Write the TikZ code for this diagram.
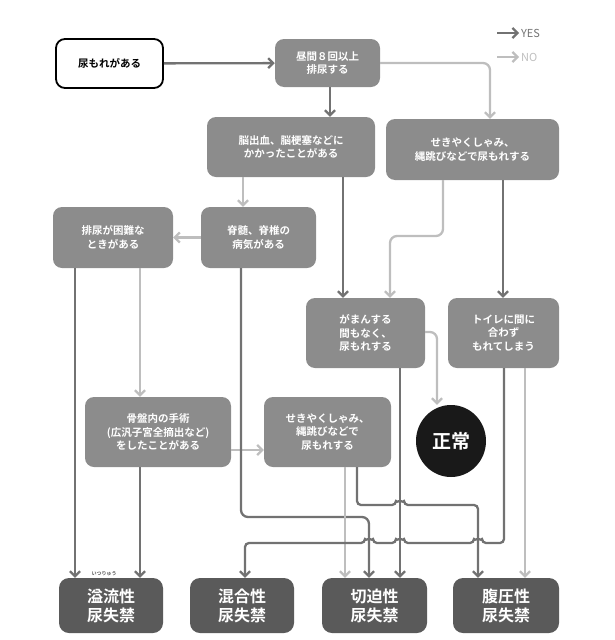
\documentclass[tikz,border=0pt]{standalone}
\usepackage{fontspec}
\setmainfont{Noto Sans CJK JP}[BoldFont={Noto Sans CJK JP Bold}]
\usetikzlibrary{arrows.meta}
\usetikzlibrary{positioning}
\usetikzlibrary{shapes.geometric}
\definecolor{boxgray}{HTML}{8C8C8C}
\definecolor{endgray}{HTML}{5A5A5A}
\definecolor{yesgray}{HTML}{727272}
\definecolor{nogray}{HTML}{BEBEBE}
\tikzset{
  qbox/.style={fill=boxgray,rounded corners=9pt,text=white,font=\bfseries\fontsize{10.5}{13.5}\selectfont,align=center,inner sep=0pt},
  endbox/.style={fill=endgray,rounded corners=10pt,text=white,font=\bfseries\fontsize{16}{19}\selectfont,align=center,inner sep=0pt},
  yes/.style={draw=yesgray,line width=2.3pt,rounded corners=7pt,-{Straight Barb[length=5pt,width=10pt]}},
  no/.style={draw=nogray,line width=2.3pt,rounded corners=7pt,-{Straight Barb[length=5pt,width=10pt]}},
}
\begin{document}
\begin{tikzpicture}[x=1pt,y=-1pt]
\useasboundingbox (0,0) rectangle (615,640);
% boxes
\node[draw=black,line width=1.8pt,rounded corners=9pt,minimum width=107pt,minimum height=49pt,font=\bfseries\fontsize{10.5}{13}\selectfont] (start) at (109.5,63.5) {尿もれがある};
\node[qbox,minimum width=105pt,minimum height=48pt] (freq) at (327.5,63) {昼間８回以上\\排尿する};
\node[qbox,minimum width=168pt,minimum height=60pt] (brain) at (291,147) {脳出血、脳梗塞などに\\かかったことがある};
\node[qbox,minimum width=173pt,minimum height=61pt] (cough) at (472.5,149.5) {せきやくしゃみ、\\縄跳びなどで尿もれする};
\node[qbox,minimum width=115pt,minimum height=61pt] (spine) at (258.5,237.5) {脊髄、脊椎の\\病気がある};
\node[qbox,minimum width=120pt,minimum height=61pt] (hard) at (113,237.5) {排尿が困難な\\ときがある};
\node[qbox,minimum width=119pt,minimum height=70pt] (gaman) at (365.5,333) {がまんする\\間もなく、\\尿もれする};
\node[qbox,minimum width=111pt,minimum height=70pt] (toilet) at (503.5,333) {トイレに間に\\合わず\\もれてしまう};
\node[qbox,minimum width=146pt,minimum height=70pt] (pelvis) at (158,432) {骨盤内の手術\\(広汎子宮全摘出など)\\をしたことがある};
\node[qbox,minimum width=127pt,minimum height=70pt] (cough2) at (327.5,432) {せきやくしゃみ、\\縄跳びなどで\\尿もれする};
\node[ellipse,fill=black!90,text=white,minimum width=70pt,minimum height=72pt,font=\bfseries\fontsize{19}{22}\selectfont] (normal) at (451,441) {正常};
\node[endbox,minimum width=104pt,minimum height=55pt] (over) at (111,605.5) {溢流性\\尿失禁};
\node[font=\bfseries\fontsize{5}{5}\selectfont,text=endgray] (ruby) at (104,574) {いつりゅう};
\node[endbox,minimum width=104pt,minimum height=55pt] (mixed) at (242,605.5) {混合性\\尿失禁};
\node[endbox,minimum width=105pt,minimum height=55pt] (urge) at (374.5,605.5) {切迫性\\尿失禁};
\node[endbox,minimum width=106pt,minimum height=55pt] (stress) at (506,605.5) {腹圧性\\尿失禁};
% legend
\coordinate (ly) at (497,33);
\coordinate (ln) at (497,57);
\draw[yes] (ly) -- ++(22,0) node[right,draw=none,text=yesgray,inner sep=1pt,font=\fontsize{11}{11}\selectfont] (ylab) {YES};
\draw[no] (ln) -- ++(22,0) node[right,draw=none,text=nogray,inner sep=1pt,font=\fontsize{11}{11}\selectfont] (nlab) {NO};
% connectors
\draw[yes] (start) -- (freq);
\draw[yes] (freq.south -| 330,0) -- (brain.north -| 330,0);
\draw[no] (freq.east) -- (490,63) -- (cough.north -| 490,0);
\draw[no] (brain.south -| 243,0) -- (spine.north -| 243,0);
\draw[yes] (brain.south -| 343,0) -- (gaman.north -| 343,0);
\draw[no] (cough.south -| 443,0) -- (443,236) -- (390,236) -- (gaman.north -| 390,0);
\draw[yes] (cough.south -| 503,0) -- (toilet.north -| 503,0);
\draw[no] (spine) -- (hard);
\draw[yes] (hard.south -| 75,0) -- (over.north -| 75,0);
\draw[no] (hard.south -| 140,0) -- (pelvis.north -| 140,0);
\draw[yes] (pelvis.south -| 140,0) -- (over.north -| 140,0);
\draw[no] (pelvis.east |- 0,450) -- (cough2.west |- 0,450);
\draw[yes] (spine.south -| 241,0) -- (241,517) -- (369,517) -- (urge.north -| 369,0);
\draw[no] (cough2.south -| 345,0) -- (urge.north -| 345,0);
\draw[yes,rounded corners=4pt] (cough2.south -| 357,0) -- (357,505) -- (396,505) arc(180:360:4) -- (478,505) -- (stress.north -| 478,0);
\draw[yes] (gaman.south -| 400,0) -- (urge.north -| 400,0);
\draw[no] (gaman.east |- 0,332) -- (437,332) -- (normal.north -| 437,0);
\draw[yes,rounded corners=4pt] (toilet.south -| 504,0) -- (504,543) -- (482,543) arc(0:-180:4) -- (404,543) arc(0:-180:4) -- (373,543) arc(0:-180:4) -- (245,543) -- (mixed.north -| 245,0);
\draw[no] (toilet.south -| 525,0) -- (stress.north -| 525,0);
\end{tikzpicture}
\end{document}
